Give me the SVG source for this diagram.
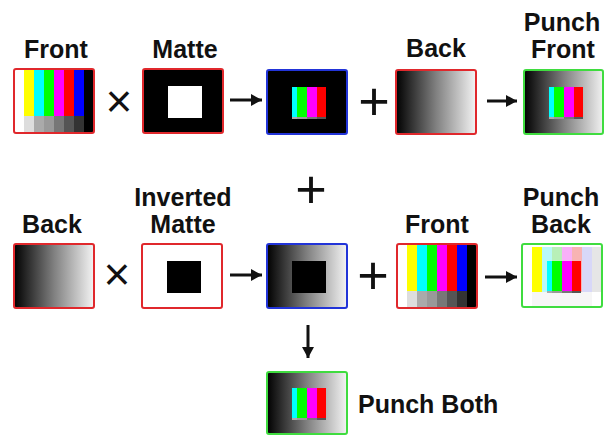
<svg xmlns="http://www.w3.org/2000/svg" xmlns:xlink="http://www.w3.org/1999/xlink" width="605" height="435" viewBox="0 0 605 435">
<style>
.lbl{font-family:"Liberation Sans",Arial,sans-serif;font-weight:bold;font-size:25px;fill:#111;text-anchor:middle}
.op{font-family:"Liberation Sans",Arial,sans-serif;fill:#111;text-anchor:middle}
.bred{fill:none;stroke:#e0282c;stroke-width:2}
.bblue{fill:none;stroke:#2234d8;stroke-width:2}
.bgreen{fill:none;stroke:#3fdc3f;stroke-width:2}
.conn{stroke:#111;stroke-width:3;fill:none}
</style>
<defs>
<linearGradient id="grad" x1="0" y1="0" x2="1" y2="0">
<stop offset="0" stop-color="#000"/>
<stop offset="0.5" stop-color="#808080"/>
<stop offset="1" stop-color="#f4f4f4"/>
</linearGradient>
<clipPath id="inner" clipPathUnits="userSpaceOnUse"><rect x="25" y="17" width="34" height="32"/></clipPath>
<marker id="ah" markerUnits="userSpaceOnUse" markerWidth="11" markerHeight="12" refX="11" refY="6" orient="auto"><path d="M0,0 L11,6 L0,12 z" fill="#111"/></marker>
<g id="bars">
<rect x="0" y="0" width="10" height="47" fill="#fff"/>
<rect x="10" y="0" width="10" height="47" fill="#ff0"/>
<rect x="20" y="0" width="10" height="47" fill="#0ff"/>
<rect x="30" y="0" width="10" height="47" fill="#0f0"/>
<rect x="40" y="0" width="10" height="47" fill="#f0f"/>
<rect x="50" y="0" width="10" height="47" fill="#f00"/>
<rect x="60" y="0" width="10" height="47" fill="#00f"/>
<rect x="70" y="0" width="10" height="47" fill="#000"/>
<rect x="0" y="47" width="10" height="17" fill="#fff"/>
<rect x="10" y="47" width="10" height="17" fill="#ddd"/>
<rect x="20" y="47" width="10" height="17" fill="#aaa"/>
<rect x="30" y="47" width="10" height="17" fill="#999"/>
<rect x="40" y="47" width="10" height="17" fill="#777"/>
<rect x="50" y="47" width="10" height="17" fill="#555"/>
<rect x="60" y="47" width="10" height="17" fill="#333"/>
<rect x="70" y="47" width="10" height="17" fill="#000"/>
</g>
<g id="palebars">
<rect x="0" y="0" width="80" height="64" fill="#fff"/>
<rect x="10" y="3" width="10" height="45" fill="#ff0"/>
<rect x="20" y="3" width="10" height="45" fill="#b8f8f8"/>
<rect x="30" y="3" width="10" height="45" fill="#b8f0b8"/>
<rect x="40" y="3" width="10" height="45" fill="#f8b0f8"/>
<rect x="50" y="3" width="10" height="45" fill="#f8b4b4"/>
<rect x="60" y="3" width="10" height="45" fill="#d8d8f8"/>
<rect x="70" y="3" width="10" height="45" fill="#e6e6e6"/>
<rect x="10" y="48" width="60" height="14" fill="#f6f6f6"/>
</g>
</defs>
<rect width="605" height="435" fill="#fff"/>

<g id="front1" transform="translate(14,69)">
<use xlink:href="#bars"/>
<rect class="bred" x="0" y="0" width="80" height="64" rx="2"/>
</g>
<g id="matte1" transform="translate(143,69)">
<rect x="0" y="0" width="80" height="64" fill="#000"/>
<rect x="25" y="17" width="34" height="32" fill="#fff"/>
<rect class="bred" x="0" y="0" width="80" height="64" rx="2"/>
</g>
<g id="frontmatte" transform="translate(267,70)">
<rect x="0" y="0" width="80" height="64" fill="#000"/>
<use xlink:href="#bars" clip-path="url(#inner)"/>
<rect class="bblue" x="0" y="0" width="80" height="64" rx="2"/>
</g>
<g id="back1" transform="translate(396,70)">
<rect x="0" y="0" width="80" height="64" fill="url(#grad)"/>
<rect class="bred" x="0" y="0" width="80" height="64" rx="2"/>
</g>
<g id="punchfront" transform="translate(524,70)">
<rect x="0" y="0" width="80" height="64" fill="url(#grad)"/>
<use xlink:href="#bars" clip-path="url(#inner)"/>
<rect class="bgreen" x="0" y="0" width="79" height="64" rx="2"/>
</g>

<g id="back2" transform="translate(14,244)">
<rect x="0" y="0" width="80" height="64" fill="url(#grad)"/>
<rect class="bred" x="0" y="0" width="80" height="64" rx="2"/>
</g>
<g id="invmatte" transform="translate(142,244)">
<rect x="0" y="0" width="80" height="64" fill="#fff"/>
<rect x="25" y="17" width="34" height="32" fill="#000"/>
<rect class="bred" x="0" y="0" width="80" height="64" rx="2"/>
</g>
<g id="backinv" transform="translate(267,244)">
<rect x="0" y="0" width="80" height="64" fill="url(#grad)"/>
<rect x="25" y="17" width="34" height="32" fill="#000"/>
<rect class="bblue" x="0" y="0" width="80" height="64" rx="2"/>
</g>
<g id="front2" transform="translate(397,244)">
<use xlink:href="#bars"/>
<rect class="bred" x="0" y="0" width="80" height="64" rx="2"/>
</g>
<g id="punchback" transform="translate(522,244)">
<use xlink:href="#palebars"/>
<use xlink:href="#bars" clip-path="url(#inner)"/>
<rect class="bgreen" x="0" y="0" width="80" height="63" rx="2"/>
</g>

<g id="punchboth" transform="translate(267,372)">
<rect x="0" y="0" width="80" height="62" fill="url(#grad)"/>
<use xlink:href="#bars" transform="translate(0,-1)" clip-path="url(#inner)"/>
<rect class="bgreen" x="0" y="0" width="80" height="62" rx="2"/>
</g>

<g id="labels">
<text class="lbl" x="56" y="58">Front</text>
<text class="lbl" x="185" y="58">Matte</text>
<text class="lbl" x="436" y="57">Back</text>
<text class="lbl" x="562" y="31">Punch</text>
<text class="lbl" x="563" y="58">Front</text>
<text class="lbl" x="52" y="233">Back</text>
<text class="lbl" x="183" y="206">Inverted</text>
<text class="lbl" x="183" y="233">Matte</text>
<text class="lbl" x="437" y="233">Front</text>
<text class="lbl" x="561" y="206">Punch</text>
<text class="lbl" x="561" y="233">Back</text>
<text class="lbl" x="358" y="413" style="text-anchor:start">Punch Both</text>
</g>

<g id="operators">
<text class="op" x="119" y="117" font-size="46">×</text>
<text class="op" x="374" y="120" font-size="54">+</text>
<text class="op" x="311" y="208" font-size="54">+</text>
<text class="op" x="117" y="290" font-size="46">×</text>
<text class="op" x="373" y="294" font-size="54">+</text>
</g>

<g id="connectors">
<line class="conn" x1="230" y1="100" x2="262" y2="100" marker-end="url(#ah)"/>
<line class="conn" x1="487" y1="101" x2="517" y2="101" marker-end="url(#ah)"/>
<line class="conn" x1="230" y1="275" x2="262" y2="275" marker-end="url(#ah)"/>
<line class="conn" x1="485" y1="277" x2="517" y2="277" marker-end="url(#ah)"/>
<line class="conn" x1="308" y1="325" x2="308" y2="358" marker-end="url(#ah)"/>
</g>
</svg>
